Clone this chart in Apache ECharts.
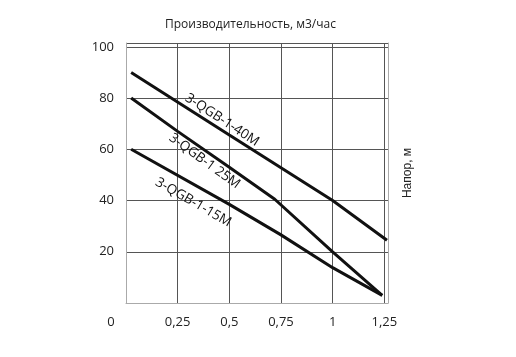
<!DOCTYPE html>
<html>
<head>
<meta charset="utf-8">
<script src="https://cdn.jsdelivr.net/npm/echarts@6/dist/echarts.min.js"></script>
<style>
  html, body { margin: 0; padding: 0; background: #fff; }
  #chartsDiv { width: 516px; height: 357px; }
</style>
</head>
<body>
<div id="chartsDiv"></div>
<script>
// подача, м3/час -> напор, м
const curve40 = [[0.025, 90], [0.5, 65.6], [0.75, 52.8], [1, 40], [1.263, 24.5]]
const curve25 = [[0.025, 80], [0.25, 67], [0.5, 53], [0.72, 40.5], [1, 20], [1.24, 3]]
const curve15 = [[0.025, 60], [0.5, 38.5], [0.75, 26.6], [1, 13.8], [1.24, 3]]
const names = ["3-QGB-1-40M", "3-QGB-1 25M", "3-QGB-1-15M"]
const xTicks = [0, 0.25, 0.5, 0.75, 1, 1.25]
const yTicks = [20, 40, 60, 80, 100]

const font = "'Open Sans', sans-serif"

function lineSeries(name, data, labelAt, rot) {
  return {
    name: name,
    type: "line",
    data: data,
    symbol: "none",
    lineStyle: { color: "#111", width: 3 },
    markPoint: {
      symbol: "circle",
      symbolSize: 1,
      itemStyle: { color: "rgba(0,0,0,0)" },
      label: {
        show: true,
        position: "inside",
        rotate: rot,
        formatter: name,
        color: "#111",
        fontSize: 13.5,
        fontFamily: font,
      },
      data: [{ coord: labelAt }],
    },
  }
}

let option = {
  animation: false,
  backgroundColor: "#fff",
  title: {
    text: "Производительность, м3/час",
    left: 160,
    top: 14,
    textStyle: { fontSize: 12, fontWeight: "normal", color: "#222", fontFamily: font },
  },
  grid: { left: 126, right: 128, top: 43, bottom: 54 },
  xAxis: {
    type: "value",
    min: 0,
    max: 1.268,
    interval: 0.25,
    axisTick: { show: false },
    axisLine: { lineStyle: { color: "#aaa" } },
    splitLine: { show: true, lineStyle: { color: "#555" } },
    axisLabel: {
      margin: 13,
      color: "#222",
      fontSize: 13,
      fontFamily: font,
      formatter: function (v) {
        let t = xTicks.find(function (k) { return Math.abs(k - v) < 1e-6 })
        if (t === undefined) return ""
        if (t === 0) return "{o|0}"
        return String(t).replace(".", ",")
      },
      rich: { o: { padding: [0, 30, 0, 0], fontSize: 13, fontFamily: font, color: "#222" } },
    },
  },
  yAxis: [
    {
      type: "value",
      min: 0,
      max: 101.5,
      interval: 20,
      axisTick: { show: false },
      axisLine: { show: true, lineStyle: { color: "#aaa" } },
      splitLine: { show: true, lineStyle: { color: "#555" } },
      axisLabel: {
        margin: 12,
        color: "#222",
        fontSize: 13,
        fontFamily: font,
        formatter: function (v) {
          return yTicks.indexOf(v) >= 0 ? String(v) : ""
        },
      },
    },
    {
      type: "value",
      position: "right",
      min: 0,
      max: 101.5,
      interval: 20,
      name: "Напор, м",
      nameLocation: "middle",
      nameRotate: 90,
      nameGap: 14,
      nameTextStyle: { fontSize: 12, color: "#222", fontFamily: "'Liberation Sans', sans-serif" },
      axisTick: { show: false },
      axisLabel: { show: false },
      axisLine: { show: true, lineStyle: { color: "#aaa" } },
      splitLine: { show: false },
    },
  ],
  series: [
    lineSeries(names[0], curve40, [0.465, 71.5], -33),
    lineSeries(names[1], curve25, [0.38, 55.4], -36),
    lineSeries(names[2], curve15, [0.326, 39.3], -30),
  ],
}

let Echarts = echarts.init(document.getElementById("chartsDiv"))
Echarts.setOption(option)
</script>
</body>
</html>
